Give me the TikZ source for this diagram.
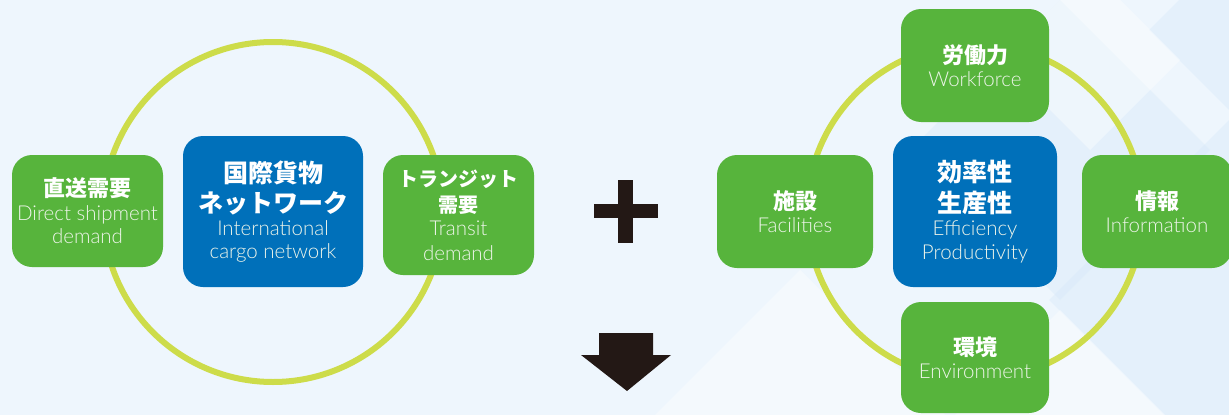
\documentclass[tikz,border=0pt]{standalone}
\usepackage{fontspec}
\setmainfont{Liberation Sans}
\newfontfamily\jpfont{Noto Sans CJK JP}
\IfFontExistsTF{Lato Light}{\newfontfamily\enfont{Lato Light}\def\ensz{20.5}}{\newfontfamily\enfont{Liberation Sans}\def\ensz{19.5}}
\definecolor{bgblue}{HTML}{EEF6FD}
\definecolor{bgdark}{HTML}{D3E7F9}
\definecolor{boxgreen}{HTML}{57B43C}
\definecolor{boxblue}{HTML}{0070BA}
\definecolor{ringlime}{HTML}{CDDC4A}
\definecolor{inkdark}{HTML}{231815}
\definecolor{entext}{HTML}{EEF5EA}
\newcommand{\jpL}{\jpfont\bfseries\fontsize{25}{23}\selectfont}
\newcommand{\jpM}{\jpfont\bfseries\fontsize{22}{23}\selectfont}
\newcommand{\jpS}{\jpfont\bfseries\fontsize{20}{23}\selectfont}
\newcommand{\enT}{\enfont\color{entext}\fontsize{\ensz}{23}\selectfont}
\tikzset{
  box/.style={rounded corners=20pt, text=white, align=center, inner sep=0pt,
    font=\fontsize{19}{23}\selectfont},
  gbox/.style={box, fill=boxgreen},
  bbox/.style={box, fill=boxblue},
  ring/.style={draw=ringlime, line width=6pt},
  solidmark/.style={fill=inkdark, draw=none},
  darkdia/.style={fill=bgdark, fill opacity=0.35, draw=none},
  lightdia/.style={fill=white, fill opacity=0.4, draw=none},
}
\newcommand{\dia}[4][]{\fill[#1] (#2-#4,#3) -- (#2,#3-#4) -- (#2+#4,#3) -- (#2,#3+#4) -- cycle;}
\begin{document}
\begin{tikzpicture}[x=1pt,y=-1pt]
\useasboundingbox (0,0) rectangle (1229,415);
\fill[bgblue] (0,0) rectangle (1229,415);
% background diamonds
\begin{scope}
\clip (0,0) rectangle (1229,415);
\dia[darkdia]{1060}{150}{150}
\dia[darkdia]{1229}{300}{180}
\dia[darkdia]{1229}{30}{80}
\dia[lightdia]{1090}{60}{90}
\dia[lightdia]{800}{430}{160}
\dia[lightdia]{1060}{420}{110}
\end{scope}
% rings
\node[circle, minimum size=340pt, inner sep=0pt] (ringL) at (273,212) {};
\node[circle, minimum size=336pt, inner sep=0pt] (ringR) at (975,212) {};
\draw[ring] (ringL.center) circle (170);
\draw[ring] (ringR.center) circle (168);
% left group
\node[gbox, minimum width=151pt, minimum height=112pt] (direct) at (87.5,211)
  {\jpM 直送需要\\[1pt] \enT Direct shipment\\ \enT demand};
\node[bbox, minimum width=180pt, minimum height=151pt] (intl) at (273,211.5)
  {\jpL 国際貨物\\[6pt] \jpL ネットワーク\\ \enT International\\ \enT cargo network};
\node[gbox, minimum width=151pt, minimum height=120pt] (transit) at (458.5,215)
  {\jpS トランジット\\[3pt] \jpS 需要\\ \enT Transit\\[2pt] \enT demand};
% plus
\node[minimum width=64pt, minimum height=63pt, inner sep=0pt] (plus) at (626,211.5) {};
\fill[solidmark] (618,180) rectangle (633,243);
\fill[solidmark] (594,204) rectangle (658,218);
% arrow
\node[minimum width=90pt, minimum height=58pt, inner sep=0pt] (down) at (626,362) {};
\fill[solidmark] (599,333) -- (653,333) -- (653,355) -- (671,355) -- (627,391)
  -- (581,355) -- (599,355) -- cycle;
% right group
\node[gbox, minimum width=148pt, minimum height=113pt] (work) at (975,65.5)
  {\jpM 労働力\\ \enT Workforce};
\node[bbox, minimum width=164pt, minimum height=151pt] (eff) at (975,211.5)
  {\jpL 効率性\\[6pt] \jpL 生産性\\ \enT Efficiency\\[1pt] \enT Productivity};
\node[gbox, minimum width=156pt, minimum height=113pt] (fac) at (795,211.5)
  {\jpM 施設\\ \enT Facilities};
\node[gbox, minimum width=150pt, minimum height=113pt] (info) at (1157,211.5)
  {\jpM 情報\\ \enT Information};
\node[gbox, minimum width=148pt, minimum height=111pt] (env) at (975,357.5)
  {\jpM 環境\\ \enT Environment};
\end{tikzpicture}
\end{document}
